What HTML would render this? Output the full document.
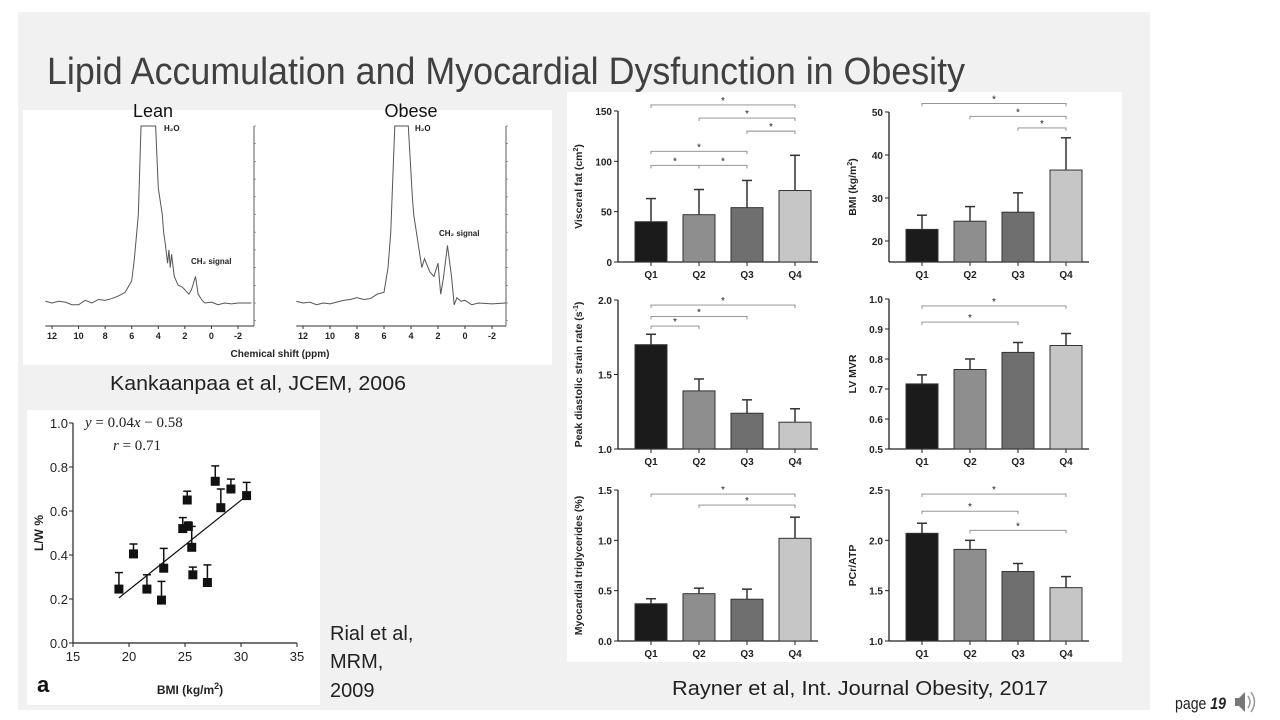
<!DOCTYPE html>
<html><head><meta charset="utf-8"><style>
html,body{margin:0;padding:0;background:#fff;}
svg{display:block;font-family:"Liberation Sans",Arial,sans-serif;}
</style></head><body>
<svg id="s" width="1280" height="720" xmlns="http://www.w3.org/2000/svg">
<rect x="0" y="0" width="1280" height="720" fill="#fff"/>
<rect x="18" y="12" width="1132" height="698" fill="#f1f1f1"/>
<text x="47" y="84" font-size="38" fill="#404040" textLength="918" lengthAdjust="spacingAndGlyphs">Lipid Accumulation and  Myocardial Dysfunction in Obesity</text>
<rect x="23" y="110" width="529" height="255" fill="#fff"/>
<rect x="27" y="410" width="293" height="295" fill="#fff"/>
<rect x="567" y="92" width="555" height="570" fill="#fff"/>
<g id="spec"></g><g id="scat"></g><g id="bars"></g>
<text x="110" y="390" font-size="20" fill="#222" textLength="296" lengthAdjust="spacingAndGlyphs">Kankaanpaa et al, JCEM, 2006</text>
<text x="330" y="640" font-size="20" fill="#222">Rial et al,</text>
<text x="330" y="668" font-size="20" fill="#222">MRM,</text>
<text x="330" y="697" font-size="20" fill="#222">2009</text>
<text x="672" y="695" font-size="20" fill="#222" textLength="376" lengthAdjust="spacingAndGlyphs">Rayner et al, Int. Journal Obesity, 2017</text>
<text x="1175" y="709" font-size="17" fill="#222" textLength="51" lengthAdjust="spacingAndGlyphs">page <tspan font-weight="bold" font-style="italic">19</tspan></text>
<g>
<path d="M1235 698h4l6-6v20l-6-6h-4z" fill="#777"/>
<path d="M1248 696q4 6 0 12M1251 692q7 10 0 20" stroke="#999" fill="none" stroke-width="1.5"/>
</g>
</svg>
<script>
const NS="http://www.w3.org/2000/svg";
function mk(p,t,a,txt){const e=document.createElementNS(NS,t);for(const k in a)e.setAttribute(k,a[k]);if(txt!==undefined)e.textContent=txt;p.appendChild(e);return e;}

// ---------- Spectra data ----------
const leanPpm=[12.5,12,11.5,11,10.5,10,9.5,9,8.5,8,7.5,7,6.5,6,5.8,5.5,5.3,4.2,4,3.7,3.6,3.5,3.3,3.2,3.1,3,2.8,2.5,2.2,2,1.7,1.5,1.2,1,0.7,0.5,0,-0.5,-1,-1.5,-2,-2.5,-3];
const leanVal=[0.002,0,0.002,0.001,-0.002,-0.002,0.003,0,0.004,0.003,0.005,0.008,0.012,0.025,0.05,0.1,0.2,0.2,0.13,0.1,0.08,0.07,0.045,0.06,0.04,0.055,0.03,0.02,0.018,0.015,0.01,0.015,0.03,0.01,0.003,0,0.001,-0.002,0,-0.001,0,0,0];
const obesePpm=[12.5,12,11.5,11,10.5,10,9.5,9,8.5,8,7.5,7,6.5,6,5.7,5.5,5.2,4.2,3.9,3.8,3.5,3.2,3,2.6,2.3,2,1.8,1.6,1.3,1.0,0.8,0.6,0.3,0,-0.5,-1,-2,-3];
const obeseVal=[0.002,0,0.001,-0.002,0,-0.001,0.001,0.003,0.004,0.006,0.004,0.005,0.01,0.012,0.04,0.08,0.2,0.2,0.12,0.1,0.07,0.04,0.05,0.035,0.03,0.045,0.01,0.028,0.065,0.03,-0.002,0.006,0.002,0.003,-0.002,0,-0.001,0];
const ppmTicks=[12,10,8,6,4,2,0,-2];
const sp=document.getElementById('spec');
function spectrum(x12,xm2,axR,ppm,val,name){
  const X=p=>x12+(12-p)*(xm2-x12)/14, Y=v=>303-v*885;
  const g=mk(sp,'g',{});
  
  
  mk(g,'line',{x1:X(12.5),x2:axR,y1:326,y2:326,stroke:'#333','stroke-width':1});
  mk(g,'line',{x1:axR,x2:axR,y1:126,y2:326,stroke:'#333','stroke-width':0.8});
  for(let i=0;i<=11;i++){const yy=Y(0.2-i*0.02);mk(g,'line',{x1:axR,x2:axR+2,y1:yy,y2:yy,stroke:'#666','stroke-width':0.6});}
  ppmTicks.forEach(t=>{mk(g,'line',{x1:X(t),x2:X(t),y1:326,y2:329,stroke:'#333'});
    const tl=mk(g,'text',{x:X(t),y:339,'font-size':9,'font-weight':'bold','text-anchor':'middle',fill:'#222'},String(t));
    });
  const pts=ppm.map((p,i)=>X(p)+','+Math.max(126,Y(val[i]))).join(' ');
  const pl=mk(g,'polyline',{points:pts,fill:'none',stroke:'#555','stroke-width':1});
  
}
spectrum(52,238,254,leanPpm,leanVal,'lean-spectrum');
spectrum(303,492,506,obesePpm,obeseVal,'obese-spectrum');
[[153,117,14,'Lean','lean-label'],[411,117,14,'Obese','obese-label']].forEach(d=>{const t=mk(sp,'text',{x:d[0],y:d[1],'font-size':18,'text-anchor':'middle',fill:'#111'},d[3]);});
[[164,131,'H₂O'],[415,131,'H₂O'],[191,264,'CH₂ signal'],[439,236,'CH₂ signal']].forEach(d=>{const t=mk(sp,'text',{x:d[0],y:d[1],'font-size':8,'font-weight':'bold',fill:'#222'},d[2]);});
{const t=mk(sp,'text',{x:280,y:357,'font-size':10,'font-weight':'bold','text-anchor':'middle',fill:'#222'},'Chemical shift (ppm)');}

// ---------- Scatter data ----------
const bmiVals=[19.1,20.4,21.6,22.9,23.1,24.8,25.2,25.3,25.6,25.7,27,27.7,28.2,29.1,30.5];
const lwVals=[0.245,0.405,0.245,0.195,0.34,0.52,0.65,0.53,0.435,0.31,0.275,0.735,0.615,0.70,0.67];
const lwErrTop=[0.32,0.45,0.31,0.28,0.43,0.57,0.69,0.55,0.53,0.345,0.355,0.805,0.70,0.745,0.73];
const fitX=[19.1,30.4];
const fitY=[0.205,0.665];
const scXTicks=[15,20,25,30,35];
const scYTicks=[0,0.2,0.4,0.6,0.8,1.0];
{
  const sc=document.getElementById('scat');
  const X=v=>73+(v-15)*(297-73)/20, Y=v=>643-v*220;
  mk(sc,'line',{x1:73,x2:297,y1:643,y2:643,stroke:'#222','stroke-width':1.2});
  mk(sc,'line',{x1:73,x2:73,y1:423,y2:643,stroke:'#222','stroke-width':1.2});
  scXTicks.forEach(t=>{mk(sc,'line',{x1:X(t),x2:X(t),y1:643,y2:647,stroke:'#222'});
    const l=mk(sc,'text',{x:X(t),y:661,'font-size':13,'text-anchor':'middle',fill:'#222'},String(t));});
  scYTicks.forEach(t=>{mk(sc,'line',{x1:69,x2:73,y1:Y(t),y2:Y(t),stroke:'#222'});
    const l=mk(sc,'text',{x:68,y:Y(t)+5,'font-size':13,'text-anchor':'end',fill:'#222'},t.toFixed(1));});
  const fl=mk(sc,'line',{x1:X(fitX[0]),x2:X(fitX[1]),y1:Y(fitY[0]),y2:Y(fitY[1]),stroke:'#111','stroke-width':1.2});
  
  bmiVals.forEach((b,i)=>{
    const x=X(b),y=Y(lwVals[i]),ye=Y(lwErrTop[i]);
    mk(sc,'line',{x1:x,x2:x,y1:y,y2:ye,stroke:'#111','stroke-width':1.5});
    mk(sc,'line',{x1:x-4,x2:x+4,y1:ye,y2:ye,stroke:'#111','stroke-width':1.5});
    const r=mk(sc,'rect',{x:x-4.5,y:y-4.5,width:9,height:9,fill:'#111'});
    
  });
  const eq=mk(sc,'text',{x:85,y:427,'font-size':15,'font-family':'Liberation Serif,serif',fill:'#222'});
  eq.innerHTML='<tspan font-style="italic">y</tspan> = 0.04<tspan font-style="italic">x</tspan> − 0.58';
  
  const rr=mk(sc,'text',{x:113,y:450,'font-size':15,'font-family':'Liberation Serif,serif',fill:'#222'});
  rr.innerHTML='<tspan font-style="italic">r</tspan> = 0.71';
  
  const yt=mk(sc,'text',{x:0,y:0,'font-size':12,'font-weight':'bold','text-anchor':'middle',fill:'#222',transform:'translate(43,533) rotate(-90)'},'L/W %');
  
  const xt=mk(sc,'text',{x:190,y:694,'font-size':12,'font-weight':'bold','text-anchor':'middle',fill:'#222'});
  xt.innerHTML='BMI (kg/m<tspan dy="-5" font-size="9">2</tspan><tspan dy="5">)</tspan>';
  
  const a=mk(sc,'text',{x:37,y:692,'font-size':22,'font-weight':'bold',fill:'#111'},'a');
  
}

// ---------- Bar chart data ----------
const quartiles=['Q1','Q2','Q3','Q4'];
const visceralMean=[40,47,54,71];
const visceralErr=[63,72,81,106];
const bmiMean=[22.7,24.6,26.7,36.5];
const bmiErr=[26,28,31.2,44];
const peakMean=[1.70,1.39,1.24,1.18];
const peakErr=[1.77,1.47,1.33,1.27];
const lvMean=[0.717,0.765,0.822,0.845];
const lvErr=[0.747,0.80,0.855,0.885];
const tgMean=[0.37,0.47,0.415,1.02];
const tgErr=[0.42,0.525,0.515,1.23];
const pcrMean=[2.07,1.91,1.69,1.53];
const pcrErr=[2.17,2.0,1.77,1.64];
const visceralTicks=[0,50,100,150];
const bmiTicks=[20,30,40,50];
const peakTicks=[1.0,1.5,2.0];
const lvTicks=[0.5,0.6,0.7,0.8,0.9,1.0];
const tgTicks=[0.0,0.5,1.0,1.5];
const pcrTicks=[1.0,1.5,2.0,2.5];
const visceralSig=[[0,3,156],[1,3,143],[2,3,130],[0,2,110],[0,1,96],[1,2,96]];
const bmiSig=[[0,3,52],[1,3,49],[2,3,46.3]];
const peakSig=[[0,3,1.966],[0,2,1.89],[0,1,1.825]];
const lvSig=[[0,3,0.977],[0,2,0.923]];
const tgSig=[[0,3,1.46],[1,3,1.35]];
const pcrSig=[[0,3,2.46],[0,2,2.29],[1,3,2.10]];
const barFill=['#1b1b1b','#8e8e8e','#6f6f6f','#c6c6c6'];

const bg=document.getElementById('bars');
function barChart(o){
  const g=mk(bg,'g',{});
  
  
  const Y=v=>o.y0-(v-o.v0)*(o.y0-o.y1)/(o.v1-o.v0);
  const xs=i=>o.ax+33+i*48;
  const base=o.base!==undefined?o.base:o.y0;
  mk(g,'line',{x1:o.ax,x2:o.ax,y1:Y(o.ticks[o.ticks.length-1]),y2:base,stroke:'#222','stroke-width':1.3});
  mk(g,'line',{x1:o.ax,x2:o.ax+200,y1:base,y2:base,stroke:'#222','stroke-width':1.3});
  o.ticks.forEach(t=>{mk(g,'line',{x1:o.ax-4,x2:o.ax,y1:Y(t),y2:Y(t),stroke:'#222'});
    const l=mk(g,'text',{x:o.ax-6,y:Y(t)+4,'font-size':10,'font-weight':'bold','text-anchor':'end',fill:'#222'},o.fmt(t));
    });
  quartiles.forEach((q,i)=>{
    const x=xs(i),top=Y(o.mean[i]),e=Y(o.err[i]);
    mk(g,'line',{x1:x,x2:x,y1:top,y2:e,stroke:'#333','stroke-width':1.5});
    mk(g,'line',{x1:x-5,x2:x+5,y1:e,y2:e,stroke:'#333','stroke-width':1.5});
    const r=mk(g,'rect',{x:x-16,y:top,width:32,height:base-top,fill:barFill[i],stroke:'#333','stroke-width':1});
    
    mk(g,'line',{x1:x,x2:x,y1:base,y2:base+4,stroke:'#222'});
    const l=mk(g,'text',{x:x,y:base+16,'font-size':10,'font-weight':'bold','text-anchor':'middle',fill:'#222'},q);
    
  });
  o.sig.forEach(s=>{
    const yy=Y(s[2]),xa=xs(s[0]),xb=xs(s[1]);
    const p=mk(g,'path',{d:`M${xa} ${yy+3}V${yy}H${xb}V${yy+3}`,fill:'none',stroke:'#888','stroke-width':0.9});
    
    const st=mk(g,'text',{x:(xa+xb)/2,y:yy-1,'font-size':10,'text-anchor':'middle',fill:'#222'},'*');
    
  });
  const cy=(Y(o.ticks[o.ticks.length-1])+base)/2;
  const tt=mk(g,'text',{x:0,y:0,'font-size':10.5,'font-weight':'bold','text-anchor':'middle',fill:'#222',transform:`translate(${o.tx},${cy}) rotate(-90)`});
  tt.innerHTML=o.title;
  
}
const f0=t=>String(t), f1=t=>t.toFixed(1);
barChart({name:'visceral-fat-chart',ax:618,v0:0,v1:150,y0:262,y1:111,ticks:visceralTicks,mean:visceralMean,err:visceralErr,sig:visceralSig,fmt:f0,tx:582,title:'Visceral fat (cm<tspan dy="-4" font-size="7">2</tspan><tspan dy="4">)</tspan>'});
barChart({name:'bmi-chart',ax:889,v0:20,v1:50,y0:241,y1:112,base:262,ticks:bmiTicks,mean:bmiMean,err:bmiErr,sig:bmiSig,fmt:f0,tx:856,title:'BMI (kg/m<tspan dy="-4" font-size="7">2</tspan><tspan dy="4">)</tspan>'});
barChart({name:'peak-strain-rate-chart',ax:618,v0:1,v1:2,y0:449,y1:300,ticks:peakTicks,mean:peakMean,err:peakErr,sig:peakSig,fmt:f1,tx:582,title:'Peak diastolic strain rate (s<tspan dy="-4" font-size="7">-1</tspan><tspan dy="4">)</tspan>'});
barChart({name:'lv-mvr-chart',ax:889,v0:0.5,v1:1,y0:449,y1:299,ticks:lvTicks,mean:lvMean,err:lvErr,sig:lvSig,fmt:f1,tx:856,title:'LV MVR'});
barChart({name:'myocardial-triglycerides-chart',ax:618,v0:0,v1:1.5,y0:641,y1:490,ticks:tgTicks,mean:tgMean,err:tgErr,sig:tgSig,fmt:f1,tx:582,title:'Myocardial triglycerides (%)'});
barChart({name:'pcr-atp-chart',ax:889,v0:1,v1:2.5,y0:641,y1:490,ticks:pcrTicks,mean:pcrMean,err:pcrErr,sig:pcrSig,fmt:f1,tx:856,title:'PCr/ATP'});
</script>
</body></html>
